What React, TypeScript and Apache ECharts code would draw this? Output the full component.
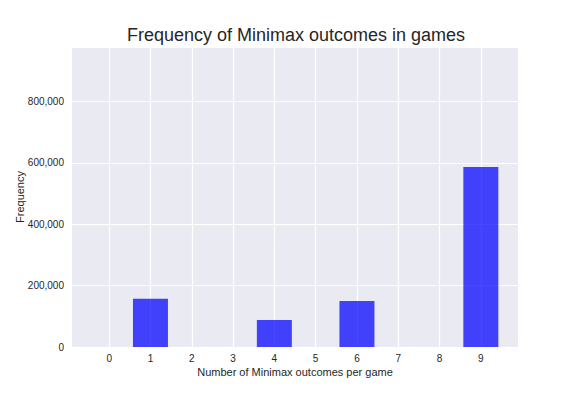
import React, { useEffect, useRef } from "react";
import * as echarts from "echarts";

const outcomes = [1, 4, 6, 9];
const frequencies = [157000, 88000, 150000, 587000];
const xTicks = [0, 1, 2, 3, 4, 5, 6, 7, 8, 9];
const yTickStep = 200000;

export default function App() {
  const ref = useRef<HTMLDivElement>(null);
  useEffect(() => {
    if (!ref.current) return;
    const chart = echarts.init(ref.current, undefined, { renderer: "svg" });
    const font = "'Liberation Sans', Arial, sans-serif";
    chart.setOption({
      animation: false,
      title: {
        text: "Frequency of Minimax outcomes in games",
        left: 291,
        top: 21,
        textAlign: "center",
        textStyle: { fontFamily: font, fontSize: 18, fontWeight: "normal", color: "#262626" },
      },
      grid: {
        left: 72,
        right: 58,
        top: 47,
        bottom: 49,
        show: true,
        backgroundColor: "#EAEAF2",
        borderWidth: 0,
      },
      xAxis: {
        type: "value",
        min: -0.9,
        max: 9.9,
        name: "Number of Minimax outcomes per game",
        nameLocation: "middle",
        nameGap: 19,
        nameMoveOverlap: false,
        nameTextStyle: { fontFamily: font, fontSize: 11, color: "#262626" },
        axisLine: { show: false },
        axisTick: { show: false, customValues: xTicks },
        axisLabel: {
          fontFamily: font,
          fontSize: 10,
          color: "#262626",
          margin: 6,
          customValues: xTicks,
        },
        splitLine: { show: true, lineStyle: { color: "#FFFFFF", width: 1.2 } },
      },
      yAxis: {
        type: "value",
        min: 0,
        max: 978000,
        interval: yTickStep,
        name: "Frequency",
        nameLocation: "middle",
        nameGap: 47,
        nameMoveOverlap: false,
        nameTextStyle: { fontFamily: font, fontSize: 11, color: "#262626" },
        axisLine: { show: false },
        axisTick: { show: false },
        axisLabel: {
          fontFamily: font,
          fontSize: 10,
          color: "#262626",
          margin: 8,
          showMaxLabel: false,
          formatter: (v: number) => (v % yTickStep === 0 ? v.toLocaleString("en-US") : ""),
        },
        splitLine: { show: true, lineStyle: { color: "#FFFFFF", width: 1.2 } },
      },
      series: [
        {
          type: "bar",
          data: outcomes.map((o, i) => [o, frequencies[i]]),
          barWidth: 35,
          itemStyle: { color: "rgba(0,0,255,0.72)" },
        },
      ],
    });
    return () => chart.dispose();
  }, []);
  return <div ref={ref} style={{ width: 576, height: 396, position: "absolute", left: 0, top: 0 }} />;
}
